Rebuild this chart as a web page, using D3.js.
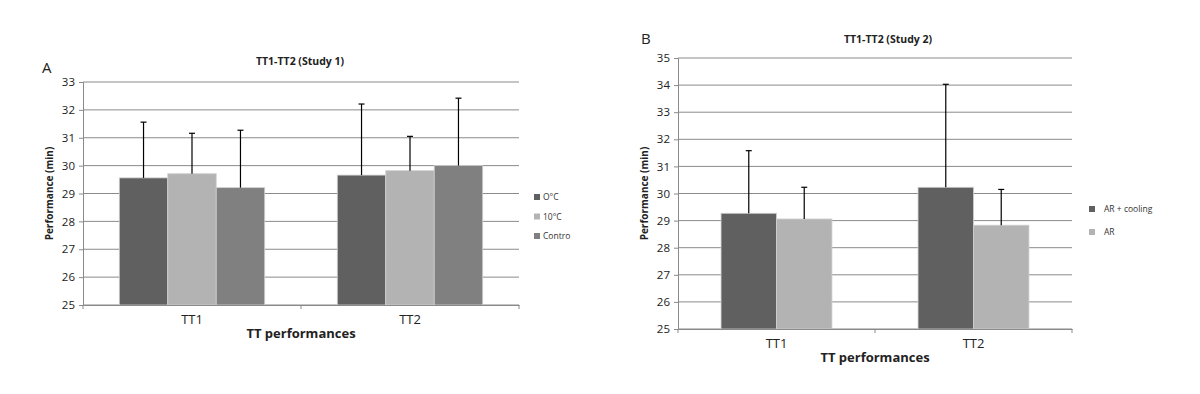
<!DOCTYPE html>
<html>
<head>
<meta charset="utf-8">
<script src="https://cdn.jsdelivr.net/npm/d3@7"></script>
<style>
  body { margin: 0; background: #fff; }
  svg text { font-family: "Open Sans", "Liberation Sans", sans-serif; fill: #222; }
</style>
</head>
<body>
<div id="chart"></div>
<script>
// data
const categories = ['TT1', 'TT2'];

const seriesA = ['O°C', '10°C', 'Contro'];
const meansA = [[29.56, 29.71, 29.21], [29.66, 29.82, 30.0]];
const errA = [[31.56, 31.16, 31.27], [32.21, 31.05, 32.42]];
const ticksA = d3.range(25, 34);

const seriesB = ['AR + cooling', 'AR'];
const meansB = [[29.27, 29.06], [30.23, 28.83]];
const errB = [[31.58, 30.23], [34.03, 30.15]];
const ticksB = d3.range(25, 36);

const colors = ['#606060', '#b3b3b3', '#808080'];

const svg = d3.select('#chart')
    .append('svg')
    .attr('width', 1200)
    .attr('height', 394);

function drawPanel(p) {
    const g = svg.append('g');
    const x = d3.scaleBand()
        .domain(categories)
        .range([p.left, p.right]);
    const x1 = d3.scaleBand()
        .domain(d3.range(p.series.length))
        .range([0, x.bandwidth() * p.groupFrac]);
    const off = (x.bandwidth() - x1.range()[1]) / 2;
    const y = d3.scaleLinear()
        .domain([p.ticks[0], p.ticks[p.ticks.length - 1]])
        .range([p.bottom, p.top]);

    // gridlines
    g.selectAll('.grid')
        .data(p.ticks)
        .enter().append('line')
        .attr('x1', p.left)
        .attr('x2', p.right)
        .attr('y1', d => y(d))
        .attr('y2', d => y(d))
        .attr('stroke', '#8a8a8a')
        .attr('stroke-width', 1);

    // bars
    categories.forEach((c, ci) => {
        p.series.forEach((s, si) => {
            const bx = x(c) + off + x1(si);
            g.append('rect')
                .attr('x', bx)
                .attr('y', y(p.means[ci][si]))
                .attr('width', x1.bandwidth())
                .attr('height', p.bottom - y(p.means[ci][si]))
                .attr('fill', colors[si])
                .attr('stroke', '#d0d0d0')
                .attr('stroke-width', 0.8);
            const cx = bx + x1.bandwidth() / 2;
            g.append('line')
                .attr('x1', cx).attr('x2', cx)
                .attr('y1', y(p.means[ci][si]))
                .attr('y2', y(p.err[ci][si]))
                .attr('stroke', '#000').attr('stroke-width', 1.2);
            g.append('line')
                .attr('x1', cx - 3).attr('x2', cx + 3)
                .attr('y1', y(p.err[ci][si]))
                .attr('y2', y(p.err[ci][si]))
                .attr('stroke', '#000').attr('stroke-width', 1.2);
        });
    });

    // y axis
    const ya = g.append('g')
        .attr('transform', 'translate(' + p.left + ',0)')
        .call(d3.axisLeft(y).tickValues(p.ticks).tickSize(4).tickPadding(4).tickFormat(d3.format('d')));
    ya.select('.domain').attr('stroke', '#8a8a8a');
    ya.selectAll('.tick line').attr('stroke', '#8a8a8a');
    ya.selectAll('text').style('font-size', '11.5px').style('fill', '#222');

    // x axis
    const xa = g.append('g')
        .attr('transform', 'translate(0,' + p.bottom + ')')
        .call(d3.axisBottom(x).tickSize(0).tickPadding(10));
    xa.select('.domain').attr('stroke', '#8a8a8a');
    xa.selectAll('text').style('font-size', '13px').style('fill', '#222');
    xa.selectAll('.edge')
        .data([p.left, x('TT2'), p.right])
        .enter().append('line')
        .attr('x1', d => d).attr('x2', d => d)
        .attr('y1', 0).attr('y2', 4)
        .attr('stroke', '#8a8a8a');

    g.append('text')
        .attr('x', (p.left + p.right) / 2)
        .attr('y', p.bottom + 33)
        .attr('text-anchor', 'middle')
        .style('font-size', '13px')
        .style('font-weight', 'bold')
        .text('TT performances');

    g.append('text')
        .attr('transform', 'rotate(-90)')
        .attr('x', -(p.top + p.bottom) / 2)
        .attr('y', p.left - 30)
        .attr('text-anchor', 'middle')
        .style('font-size', '10px')
        .style('font-weight', 'bold')
        .text('Performance (min)');

    g.append('text')
        .attr('x', p.titleX)
        .attr('y', p.titleY)
        .attr('text-anchor', 'middle')
        .style('font-size', '10.5px')
        .style('font-weight', 'bold')
        .text(p.title);

    g.append('text')
        .attr('x', p.letterX)
        .attr('y', p.letterY)
        .style('font-size', '15px')
        .text(p.letter);

    // legend
    p.series.forEach((s, si) => {
        g.append('rect')
            .attr('x', p.legX)
            .attr('y', p.legY + si * p.legStep - 3)
            .attr('width', 6)
            .attr('height', 6)
            .attr('fill', colors[si]);
        g.append('text')
            .attr('x', p.legX + p.legText)
            .attr('y', p.legY + si * p.legStep + 3)
            .style('font-size', '8.5px')
            .style('fill', '#333')
            .text(s);
    });
}

drawPanel({
    series: seriesA, means: meansA, err: errA, ticks: ticksA,
    left: 83, right: 519, top: 82, bottom: 305, groupFrac: 0.667,
    title: 'TT1-TT2 (Study 1)', titleX: 300, titleY: 65,
    letter: 'A', letterX: 42, letterY: 73,
    legX: 534, legY: 197, legStep: 19.5, legText: 9
});

drawPanel({
    series: seriesB, means: meansB, err: errB, ticks: ticksB,
    left: 678, right: 1072, top: 58, bottom: 329, groupFrac: 0.563,
    title: 'TT1-TT2 (Study 2)', titleX: 888, titleY: 43,
    letter: 'B', letterX: 641, letterY: 44,
    legX: 1089, legY: 209, legStep: 23, legText: 15
});
</script>
</body>
</html>
